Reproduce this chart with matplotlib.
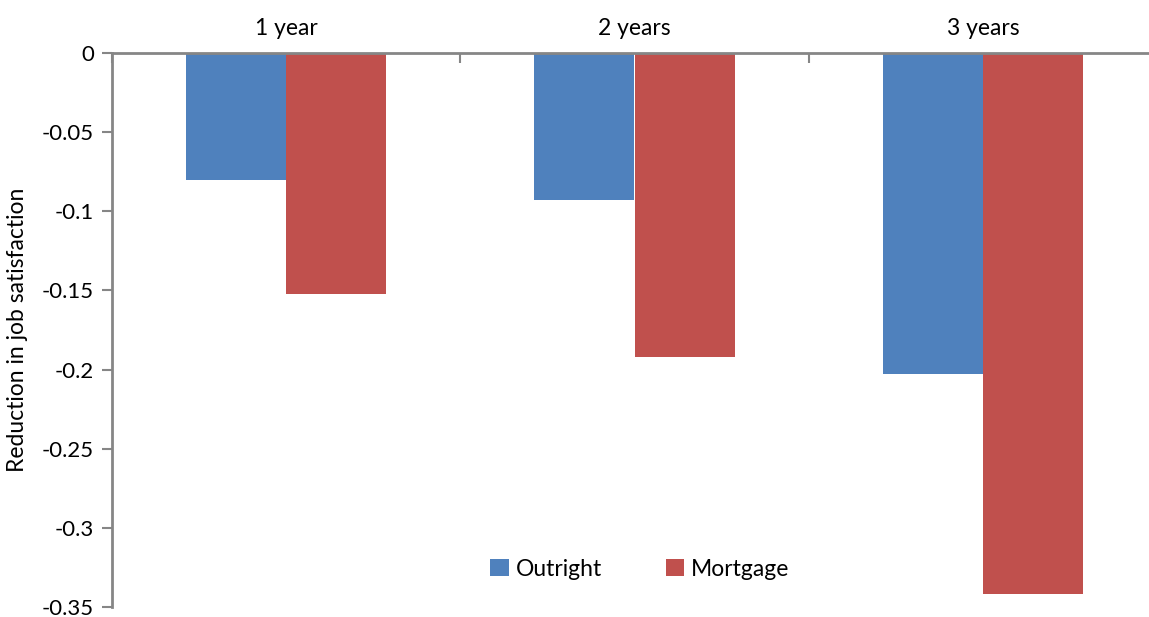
import numpy as np
from matplotlib import pyplot as plt

categories = ['1 year', '2 years', '3 years']
outright = [-0.080, -0.093, -0.203]
mortgage = [-0.152, -0.192, -0.342]
y_ticks = [0, -0.05, -0.1, -0.15, -0.2, -0.25, -0.3, -0.35]
y_labels = ['0', '-0.05', '-0.1', '-0.15', '-0.2', '-0.25', '-0.3', '-0.35']

plt.rcParams['font.family'] = ['Lato', 'DejaVu Sans']
fs = 16.5

fig = plt.figure(figsize=(11.49, 6.17), dpi=100)
ax = fig.add_axes([112 / 1149, 1 - 607 / 617, 1045 / 1149, 554 / 617])

x = np.arange(len(categories))
w = 0.2875
ax.bar(x - w / 2, outright, w, color='#4F81BD', label='Outright')
ax.bar(x + w / 2, mortgage, w, color='#C0504D', label='Mortgage')

ax.set_xlim(-0.5, len(categories) - 0.5)
ax.set_ylim(-0.35, 0)
ax.set_yticks(y_ticks)
ax.set_yticklabels(y_labels, fontsize=16)
ax.set_ylabel('Reduction in job satisfaction', fontsize=fs, labelpad=10)

ax.xaxis.tick_top()
ax.set_xticks(np.arange(len(categories) + 1) - 0.5)
ax.set_xticklabels([])
ax.set_xticks(x, minor=True)
ax.set_xticklabels(categories, minor=True, fontsize=fs)
ax.tick_params(axis='x', which='major', direction='in', length=7, color='#868686', width=1.5)
ax.tick_params(axis='x', which='minor', length=0, pad=10)
ax.tick_params(axis='y', direction='out', length=7, color='#868686', width=1.5, pad=6)

for side in ['right', 'bottom']:
    ax.spines[side].set_visible(False)
for side in ['left', 'top']:
    ax.spines[side].set_color('#868686')
    ax.spines[side].set_linewidth(2)

ax.legend(loc='center', bbox_to_anchor=(640 / 1149, 1 - 569 / 617), bbox_transform=fig.transFigure,
          ncol=2, frameon=False, fontsize=fs, handlelength=0.8, handleheight=0.8,
          handletextpad=0.3, columnspacing=2.8)

plt.savefig('out.png')
